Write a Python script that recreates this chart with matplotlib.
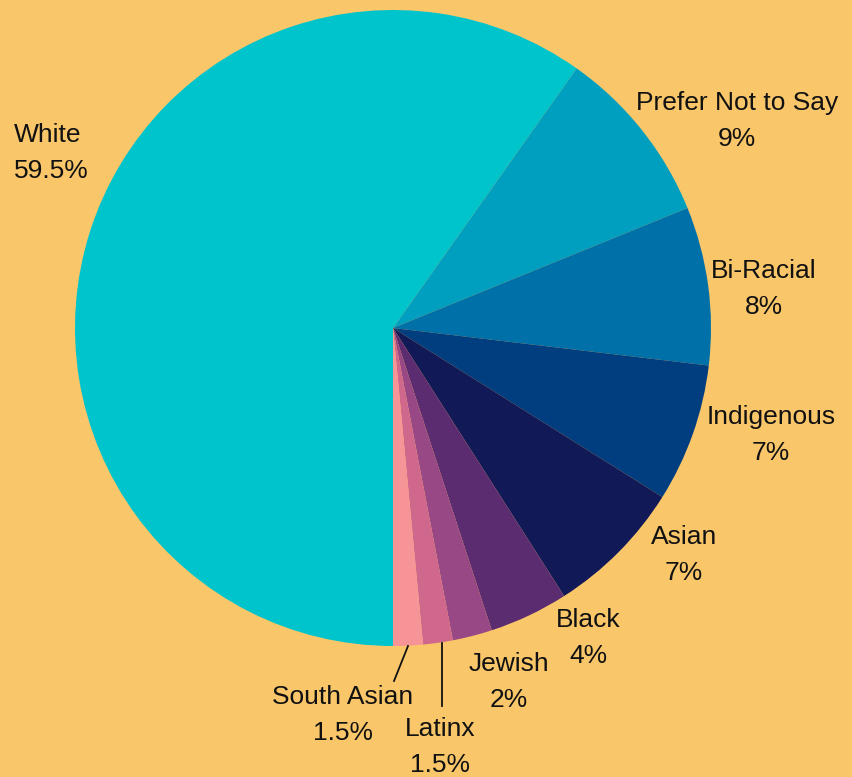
import matplotlib.pyplot as plt

# Ethnicity breakdown
groups = ["White", "Prefer Not to Say", "Bi-Racial", "Indigenous", "Asian",
          "Black", "Jewish", "Latinx", "South Asian"]
shares = [59.5, 9, 8, 7, 7, 4, 2, 1.5, 1.5]
share_text = ["59.5%", "9%", "8%", "7%", "7%", "4%", "2%", "1.5%", "1.5%"]
colors = ["#00C4CC", "#009FC0", "#0071A8", "#003E80", "#111957",
          "#5C2C70", "#984884", "#D0688E", "#F69498"]

BG = "#F9C66A"
W, H = 853, 777

fig = plt.figure(figsize=(W / 100, H / 100), dpi=100, facecolor=BG)
ax = fig.add_axes([0, 0, 1, 1])
ax.set_xlim(0, W)
ax.set_ylim(0, H)
ax.set_aspect("equal")
ax.axis("off")

cx, cy, r = 393, H - 328, 318
ax.pie(shares, colors=colors, startangle=-90, counterclock=False,
       center=(cx, cy), radius=r, frame=False,
       wedgeprops=dict(linewidth=0))
ax.set_xlim(0, W)
ax.set_ylim(0, H)

# label anchors in pixel space (x, y from top, alignment)
label_pos = {
    "White": (14, 153, "left"),
    "Prefer Not to Say": (737, 121, "center"),
    "Bi-Racial": (764, 289, "center"),
    "Indigenous": (771, 435, "center"),
    "Asian": (684, 555, "center"),
    "Black": (588, 638, "center"),
    "Jewish": (509, 682, "center"),
    "Latinx": (440, 747, "center"),
    "South Asian": (343, 715, "center"),
}

for g, s in zip(groups, share_text):
    x, y, ha = label_pos[g]
    ax.text(x, H - y, f"{g}\n{s}", ha=ha, va="center", fontsize=19,
            family="Liberation Sans", color="#111111", linespacing=1.6,
            multialignment="left" if ha == "left" else "center")

# leader lines for the two thin slices
ax.plot([408, 394], [H - 646, H - 681], color="#111111", lw=1.3)
ax.plot([442, 442], [H - 643, H - 706], color="#111111", lw=1.3)

fig.savefig("out.png", dpi=100, facecolor=BG)
